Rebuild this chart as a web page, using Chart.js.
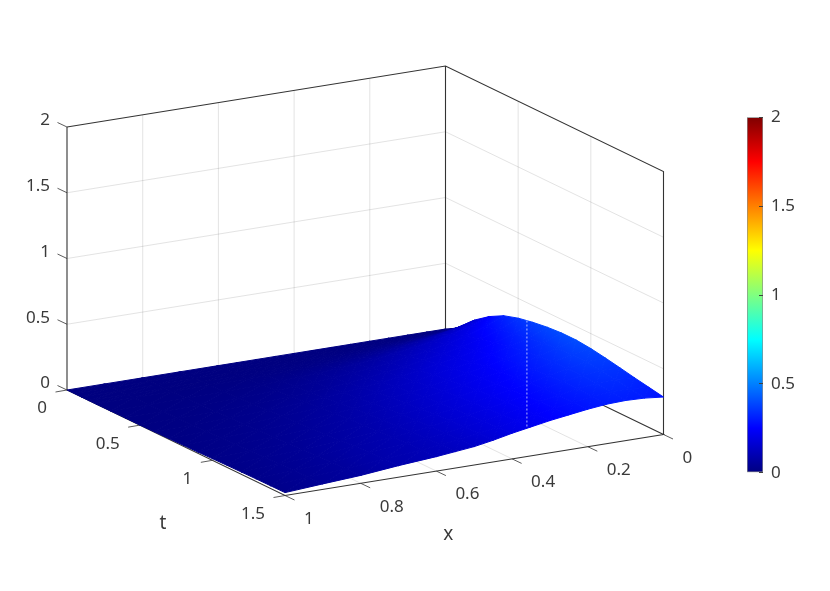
<!DOCTYPE html>
<html>
<head>
<meta charset="utf-8">
<title>u(x,t)</title>
<script src="https://cdn.jsdelivr.net/npm/chart.js@4/dist/chart.umd.min.js"></script>
<style>
  html, body { margin: 0; padding: 0; background: #fff; }
  #wrap { position: relative; width: 830px; height: 591px; overflow: hidden; }
  #surface { position: absolute; left: 0; top: 0; }
  #colorbar { position: absolute; left: 740px; top: 100px; }
</style>
</head>
<body>
<div id="wrap">
  <canvas id="surface" width="830" height="591"></canvas>
  <canvas id="colorbar" width="90" height="390"></canvas>
</div>
<script>
const xNodes = [0, 0.05, 0.1, 0.15, 0.2, 0.25, 0.3, 0.35, 0.4, 0.45, 0.5, 0.55, 0.6, 0.7, 0.8, 0.9, 1];
const tNodes = [0, 0.05, 0.1, 0.15, 0.2, 0.3, 0.4, 0.5, 0.6, 0.7, 0.8, 0.9, 1, 1.1, 1.2, 1.3, 1.4, 1.5];

// one row per tNodes entry, one column per xNodes entry
const uT000 = [0, 0, 0, 0, 0, 0, 0, 0, 0, 0, 0, 0, 0, 0, 0, 0, 0];
const uT005 = [0.03, 0.018, 0.011, 0.007, 0.004, 0.003, 0.002, 0.001, 0.001, 0, 0, 0, 0, 0, 0, 0, 0];
const uT010 = [0.07, 0.05, 0.036, 0.026, 0.019, 0.013, 0.009, 0.007, 0.005, 0.003, 0.002, 0.002, 0.001, 0.001, 0, 0, 0];
const uT015 = [0.115, 0.09, 0.068, 0.052, 0.039, 0.029, 0.021, 0.015, 0.011, 0.008, 0.006, 0.004, 0.003, 0.001, 0.001, 0, 0];
const uT020 = [0.175, 0.135, 0.105, 0.082, 0.063, 0.048, 0.036, 0.027, 0.02, 0.015, 0.011, 0.008, 0.006, 0.003, 0.001, 0.001, 0];
const uT030 = [0.255, 0.205, 0.165, 0.135, 0.11, 0.09, 0.072, 0.057, 0.045, 0.035, 0.027, 0.02, 0.015, 0.008, 0.004, 0.002, 0.001];
const uT040 = [0.315, 0.255, 0.205, 0.17, 0.142, 0.118, 0.097, 0.08, 0.065, 0.052, 0.041, 0.032, 0.025, 0.014, 0.008, 0.004, 0.002];
const uT050 = [0.35, 0.285, 0.235, 0.2, 0.17, 0.145, 0.12, 0.1, 0.083, 0.068, 0.053, 0.042, 0.033, 0.02, 0.012, 0.006, 0.002];
const uT060 = [0.372, 0.31, 0.26, 0.225, 0.195, 0.17, 0.145, 0.122, 0.102, 0.085, 0.07, 0.056, 0.044, 0.028, 0.017, 0.009, 0.004];
const uT070 = [0.388, 0.33, 0.285, 0.25, 0.215, 0.19, 0.165, 0.14, 0.12, 0.1, 0.082, 0.067, 0.054, 0.035, 0.022, 0.012, 0.006];
const uT080 = [0.397, 0.345, 0.305, 0.27, 0.235, 0.207, 0.18, 0.155, 0.133, 0.113, 0.095, 0.078, 0.064, 0.042, 0.027, 0.016, 0.008];
const uT090 = [0.397, 0.358, 0.32, 0.285, 0.25, 0.222, 0.195, 0.17, 0.147, 0.125, 0.106, 0.088, 0.073, 0.05, 0.032, 0.02, 0.01];
const uT100 = [0.386, 0.365, 0.33, 0.297, 0.263, 0.235, 0.208, 0.182, 0.158, 0.136, 0.116, 0.098, 0.082, 0.058, 0.038, 0.024, 0.013];
const uT110 = [0.368, 0.362, 0.335, 0.305, 0.273, 0.245, 0.218, 0.192, 0.168, 0.146, 0.125, 0.106, 0.09, 0.066, 0.044, 0.028, 0.016];
const uT120 = [0.347, 0.35, 0.335, 0.31, 0.28, 0.253, 0.226, 0.2, 0.176, 0.154, 0.132, 0.113, 0.097, 0.074, 0.05, 0.032, 0.018];
const uT130 = [0.325, 0.335, 0.33, 0.31, 0.285, 0.259, 0.232, 0.206, 0.182, 0.159, 0.137, 0.118, 0.102, 0.08, 0.054, 0.036, 0.02];
const uT140 = [0.305, 0.318, 0.318, 0.305, 0.285, 0.262, 0.238, 0.213, 0.188, 0.164, 0.14, 0.123, 0.107, 0.085, 0.057, 0.039, 0.021];
const uT150 = [0.285, 0.3, 0.305, 0.3, 0.285, 0.265, 0.245, 0.22, 0.195, 0.165, 0.14, 0.125, 0.11, 0.088, 0.06, 0.042, 0.022];
const uRows = [uT000, uT005, uT010, uT015, uT020, uT030, uT040, uT050, uT060, uT070, uT080, uT090, uT100, uT110, uT120, uT130, uT140, uT150];

const xTicks = [0, 0.2, 0.4, 0.6, 0.8, 1];
const tTicks = [0, 0.5, 1, 1.5];
const zTicks = [0, 0.5, 1, 1.5, 2];
const colorTicks = [0, 0.5, 1, 1.5, 2];

// white seam that runs down the rendered surface
const seamX = [0, 0.361];
const seamT = [0.56, 1.5];
const seamU = [0.365, 0.217];

const TEXT_COLOR = '#3a3a3a';
const AXIS_COLOR = '#333333';
const GRID_COLOR = 'rgba(38,38,38,0.13)';
const FONT = '17px "Noto Sans"';

// fixed view of the axes box, orthographic
function project(x, t, z) {
  return {
    x: 445.5 - 378.5 * x + (218 / 1.5) * t,
    y: 329 + 61 * x + (105.5 / 1.5) * t - 131.5 * z,
  };
}

function jet(value) {
  const p = Math.max(0, Math.min(1, value / 2));
  const clamp = (v) => Math.round(255 * Math.max(0, Math.min(1, v)));
  const r = clamp(Math.min(4 * p - 1.5, -4 * p + 4.5));
  const g = clamp(Math.min(4 * p - 0.5, -4 * p + 3.5));
  const b = clamp(Math.min(4 * p + 0.5, -4 * p + 2.5));
  return `rgb(${r},${g},${b})`;
}

function lineSet(points, color, width, dash) {
  return {
    data: points,
    showLine: true,
    pointRadius: 0,
    borderColor: color,
    borderWidth: width,
    borderDash: dash || [],
    fill: false,
    tension: 0,
    clip: false,
  };
}

// colour of a flat triangle as a linear gradient over its own plane
function triangleFill(ctx, a, b, c) {
  const det = (b.x - a.x) * (c.y - a.y) - (c.x - a.x) * (b.y - a.y);
  const du1 = b.u - a.u;
  const du2 = c.u - a.u;
  const gx = (du1 * (c.y - a.y) - du2 * (b.y - a.y)) / det;
  const gy = (du2 * (b.x - a.x) - du1 * (c.x - a.x)) / det;
  const len2 = gx * gx + gy * gy;
  const lo = Math.min(a.u, b.u, c.u);
  const hi = Math.max(a.u, b.u, c.u);
  if (!isFinite(len2) || len2 === 0 || hi - lo < 1e-6) return jet(a.u);
  const start = { x: a.x + (lo - a.u) * gx / len2, y: a.y + (lo - a.u) * gy / len2 };
  const end = { x: a.x + (hi - a.u) * gx / len2, y: a.y + (hi - a.u) * gy / len2 };
  const grad = ctx.createLinearGradient(start.x, start.y, end.x, end.y);
  for (let i = 0; i <= 4; i++) {
    grad.addColorStop(i / 4, jet(lo + (hi - lo) * i / 4));
  }
  return grad;
}

function surfaceDatasets(ctx) {
  const sets = [];
  const node = (ti, xi) => {
    const p = project(xNodes[xi], tNodes[ti], uRows[ti][xi]);
    return { x: p.x, y: p.y, u: uRows[ti][xi] };
  };
  // first dataset is painted last, so front rows go first
  for (let ti = tNodes.length - 2; ti >= 0; ti--) {
    for (let xi = 0; xi < xNodes.length - 1; xi++) {
      const a = node(ti, xi);
      const b = node(ti, xi + 1);
      const c = node(ti + 1, xi + 1);
      const d = node(ti + 1, xi);
      [[a, c, d], [a, b, c]].forEach((tri) => {
        const fillStyle = triangleFill(ctx, tri[0], tri[1], tri[2]);
        sets.push({
          data: [tri[0], tri[1], tri[2], tri[0]],
          showLine: true,
          pointRadius: 0,
          borderColor: fillStyle,
          borderWidth: 1,
          backgroundColor: fillStyle,
          fill: 'shape',
          tension: 0,
          clip: false,
        });
      });
    }
  }
  return sets;
}

function gridDatasets() {
  const sets = [];
  const tMax = tTicks[tTicks.length - 1];
  const zMax = zTicks[zTicks.length - 1];
  xTicks.slice(1, -1).forEach((x) => {
    sets.push(lineSet([project(x, tMax, 0), project(x, 0, 0), project(x, 0, zMax)], GRID_COLOR, 1));
  });
  tTicks.slice(1, -1).forEach((t) => {
    sets.push(lineSet([project(1, t, 0), project(0, t, 0), project(0, t, zMax)], GRID_COLOR, 1));
  });
  zTicks.slice(1, -1).forEach((z) => {
    sets.push(lineSet([project(1, 0, z), project(0, 0, z), project(0, tMax, z)], GRID_COLOR, 1));
  });
  return sets;
}

function axisDatasets() {
  const sets = [];
  const tMax = tTicks[tTicks.length - 1];
  const zMax = zTicks[zTicks.length - 1];
  const edges = [
    [project(1, 0, zMax), project(0, 0, zMax), project(0, tMax, zMax), project(0, tMax, 0)],
    [project(1, 0, zMax), project(1, 0, 0), project(1, tMax, 0), project(0, tMax, 0), project(0, 0, 0), project(0, 0, zMax)],
  ];
  edges.forEach((pts) => sets.push(lineSet(pts, AXIS_COLOR, 1.1)));

  const tick = (p, dx, dy) => lineSet([p, { x: p.x + dx, y: p.y + dy }], AXIS_COLOR, 0.8);
  xTicks.forEach((x) => sets.push(tick(project(x, tMax, 0), 9.5, 4.5)));
  tTicks.forEach((t) => sets.push(tick(project(1, t, 0), -11.5, 2)));
  zTicks.forEach((z) => sets.push(tick(project(1, 0, z), -9.5, -4.5)));
  return sets;
}

function label(ctx, text, x, y, align) {
  ctx.textAlign = align;
  ctx.fillText(text, x, y);
}

const axisLabels = {
  id: 'axisLabels',
  afterDraw(chart) {
    const ctx = chart.ctx;
    const tMax = tTicks[tTicks.length - 1];
    ctx.save();
    ctx.font = FONT;
    ctx.fillStyle = TEXT_COLOR;
    ctx.textBaseline = 'middle';
    zTicks.forEach((z) => {
      const p = project(1, 0, z);
      label(ctx, String(z), p.x - 17, p.y - 6.5, 'right');
    });
    tTicks.forEach((t) => {
      const p = project(1, t, 0);
      label(ctx, String(t), p.x - 20, p.y + 18.5, 'right');
    });
    xTicks.forEach((x) => {
      const p = project(x, tMax, 0);
      label(ctx, String(x), p.x + 19, p.y + 23.5, 'left');
    });
    ctx.font = '19px "Noto Sans"';
    const xTitle = project(0.5, tMax, 0);
    label(ctx, 'x', xTitle.x - 26, xTitle.y + 70, 'center');
    const tTitle = project(1, tMax / 2, 0);
    label(ctx, 't', tTitle.x - 13, tTitle.y + 81, 'center');
    ctx.restore();
  },
};

function drawSurface() {
  const canvas = document.getElementById('surface');
  const ctx = canvas.getContext('2d');
  const seam = lineSet(
    seamX.map((x, i) => project(x, seamT[i], seamU[i])),
    'rgba(255,255,255,0.5)', 1.4, [2, 2]
  );
  const datasets = [seam]
    .concat(surfaceDatasets(ctx))
    .concat(axisDatasets())
    .concat(gridDatasets());

  new Chart(canvas, {
    type: 'scatter',
    data: { datasets },
    plugins: [axisLabels],
    options: {
      responsive: false,
      animation: false,
      layout: { padding: 0 },
      plugins: { legend: { display: false }, tooltip: { enabled: false } },
      scales: {
        x: { type: 'linear', display: false, min: 0, max: 830 },
        y: { type: 'linear', display: false, min: 0, max: 591, reverse: true },
      },
    },
  });
}

function drawColorbar() {
  const canvas = document.getElementById('colorbar');
  const colorbarFill = (context) => {
    const { chart } = context;
    if (!chart.chartArea) return jet(0);
    const { top, bottom } = chart.chartArea;
    const grad = chart.ctx.createLinearGradient(0, bottom, 0, top);
    for (let i = 0; i <= 32; i++) {
      grad.addColorStop(i / 32, jet(2 * i / 32));
    }
    return grad;
  };
  new Chart(canvas, {
    type: 'bar',
    data: {
      labels: ['u'],
      datasets: [{
        data: [[0, 2]],
        backgroundColor: colorbarFill,
        borderColor: '#8c8c8c',
        borderWidth: 1,
        borderSkipped: false,
        barPercentage: 1,
        categoryPercentage: 1,
      }],
    },
    options: {
      responsive: false,
      animation: false,
      layout: { padding: { left: 7, top: 17.3, bottom: 17.3, right: 0 } },
      plugins: { legend: { display: false }, tooltip: { enabled: false } },
      scales: {
        x: { display: false },
        y: {
          position: 'right',
          min: 0,
          max: 2,
          afterFit: (scale) => {
            scale.width = 67;
            scale.paddingTop = 0;
            scale.paddingBottom = 0;
          },
          afterBuildTicks: (scale) => { scale.ticks = colorTicks.map((value) => ({ value })); },
          border: { display: false },
          grid: { drawOnChartArea: false, tickLength: -4, tickColor: '#404040', tickWidth: 1, z: 1 },
          ticks: {
            color: TEXT_COLOR,
            font: { family: 'Noto Sans', size: 17 },
            padding: 12,
            callback: (value) => String(value),
          },
        },
      },
    },
  });
}

function main() {
  drawSurface();
  drawColorbar();
}

document.addEventListener('DOMContentLoaded', main);
</script>
</body>
</html>
